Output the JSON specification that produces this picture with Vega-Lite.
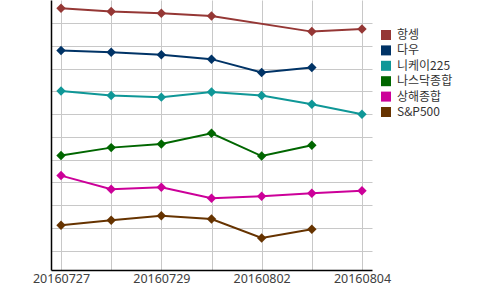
{
  "$schema": "https://vega.github.io/schema/vega-lite/v6.json",
  "width": 321,
  "height": 270,
  "autosize": {"type": "none"},
  "padding": {"left": 51, "top": 0, "right": 128, "bottom": 20},
  "background": "white",
  "config": {
    "view": {"stroke": null},
    "font": "Noto Sans"
  },
  "data": {
    "values": [
      {"date": "20160727", "index": "항셍", "v": 11.66},
      {"date": "20160728", "index": "항셍", "v": 11.51},
      {"date": "20160729", "index": "항셍", "v": 11.44},
      {"date": "20160801", "index": "항셍", "v": 11.32},
      {"date": "20160803", "index": "항셍", "v": 10.63},
      {"date": "20160804", "index": "항셍", "v": 10.74},
      {"date": "20160727", "index": "다우", "v": 9.80},
      {"date": "20160728", "index": "다우", "v": 9.72},
      {"date": "20160729", "index": "다우", "v": 9.61},
      {"date": "20160801", "index": "다우", "v": 9.42},
      {"date": "20160802", "index": "다우", "v": 8.83},
      {"date": "20160803", "index": "다우", "v": 9.05},
      {"date": "20160727", "index": "니케이225", "v": 8.02},
      {"date": "20160728", "index": "니케이225", "v": 7.82},
      {"date": "20160729", "index": "니케이225", "v": 7.75},
      {"date": "20160801", "index": "니케이225", "v": 7.98},
      {"date": "20160802", "index": "니케이225", "v": 7.82},
      {"date": "20160803", "index": "니케이225", "v": 7.44},
      {"date": "20160804", "index": "니케이225", "v": 7.00},
      {"date": "20160727", "index": "나스닥종합", "v": 5.18},
      {"date": "20160728", "index": "나스닥종합", "v": 5.53},
      {"date": "20160729", "index": "나스닥종합", "v": 5.69},
      {"date": "20160801", "index": "나스닥종합", "v": 6.16},
      {"date": "20160802", "index": "나스닥종합", "v": 5.16},
      {"date": "20160803", "index": "나스닥종합", "v": 5.63},
      {"date": "20160727", "index": "상해종합", "v": 4.30},
      {"date": "20160728", "index": "상해종합", "v": 3.70},
      {"date": "20160729", "index": "상해종합", "v": 3.79},
      {"date": "20160801", "index": "상해종합", "v": 3.30},
      {"date": "20160802", "index": "상해종합", "v": 3.39},
      {"date": "20160803", "index": "상해종합", "v": 3.52},
      {"date": "20160804", "index": "상해종합", "v": 3.63},
      {"date": "20160727", "index": "S&P500", "v": 2.12},
      {"date": "20160728", "index": "S&P500", "v": 2.34},
      {"date": "20160729", "index": "S&P500", "v": 2.54},
      {"date": "20160801", "index": "S&P500", "v": 2.39},
      {"date": "20160802", "index": "S&P500", "v": 1.56},
      {"date": "20160803", "index": "S&P500", "v": 1.94}
    ]
  },
  "encoding": {
    "x": {
      "field": "date",
      "type": "ordinal",
      "scale": {"type": "point", "padding": 0.2, "domain": ["20160727","20160728","20160729","20160801","20160802","20160803","20160804"]},
      "axis": {
        "title": null,
        "labelAngle": 0,
        "ticks": false,
        "labelPadding": 2,
        "labelFontSize": 12.5,
        "labelColor": "#404040",
        "labelFont": "Noto Sans",
        "domainColor": "#000000",
        "domainWidth": 1.5,
        "grid": true,
        "gridColor": "#c8c8c8",
        "gridWidth": 1,
        "labelExpr": "indexof(['20160727','20160729','20160802','20160804'], datum.value) >= 0 ? datum.label : ''"
      }
    },
    "y": {
      "field": "v",
      "type": "quantitative",
      "scale": {"domain": [0.15, 12.02], "nice": false, "zero": false},
      "axis": {
        "title": null,
        "labels": false,
        "ticks": false,
        "values": [1,2,3,4,5,6,7,8,9,10,11],
        "domainColor": "#000000",
        "domainWidth": 1.5,
        "grid": true,
        "gridColor": "#c8c8c8",
        "gridWidth": 1
      }
    },
    "color": {
      "field": "index",
      "type": "nominal",
      "scale": {
        "domain": ["항셍", "다우", "니케이225", "나스닥종합", "상해종합", "S&P500"],
        "range": ["#953735", "#003366", "#0f9797", "#006600", "#cc0099", "#663300"]
      },
      "legend": {
        "title": null,
        "orient": "none",
        "legendX": 329,
        "legendY": 29,
        "padding": 0,
        "symbolType": "square",
        "symbolSize": 100,
        "symbolStrokeWidth": 0,
        "labelFont": "Noto Sans CJK KR",
        "labelFontSize": 12,
        "labelColor": "#333333",
        "labelOffset": 5,
        "rowPadding": 3.4
      }
    }
  },
  "layer": [
    {"mark": {"type": "line", "strokeWidth": 2}},
    {"mark": {"type": "point", "shape": "diamond", "filled": true, "size": 90, "opacity": 1}}
  ]
}
